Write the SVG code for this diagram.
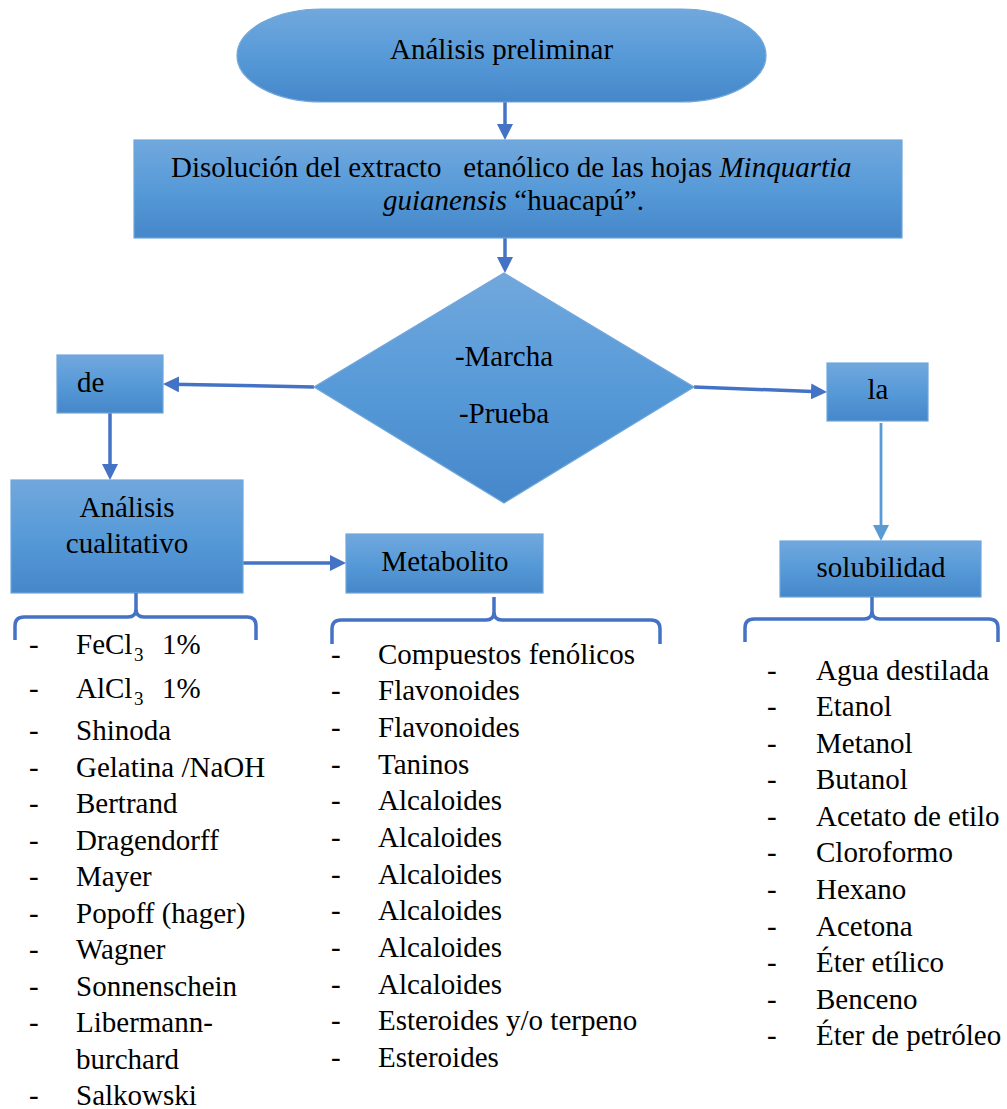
<svg xmlns="http://www.w3.org/2000/svg" width="1007" height="1109" viewBox="0 0 1007 1109">
<style>
text{font-family:"Liberation Serif","Times New Roman",serif;font-size:29px;fill:#000}
.shape{fill:url(#g);stroke:#6fa6db;stroke-width:1.2}
.conn{fill:none;stroke:#4472c4;stroke-width:3.5}
.conn2{fill:none;stroke:#5b9bd5;stroke-width:2.8}
.brace{fill:none;stroke:#4472c4;stroke-width:3.5;stroke-linejoin:round}
.sub{font-size:19px}
</style>
<defs>
<linearGradient id="g" x1="0" y1="0" x2="0" y2="1">
<stop offset="0" stop-color="#71a8dd"/>
<stop offset="0.5" stop-color="#579ad8"/>
<stop offset="1" stop-color="#4587c9"/>
</linearGradient>
<marker id="ah" markerUnits="userSpaceOnUse" markerWidth="16" markerHeight="16" refX="8" refY="8" orient="auto">
<path d="M0,0 L16,8 L0,16 Z" fill="#4472c4"/>
</marker>
<marker id="ah2" markerUnits="userSpaceOnUse" markerWidth="16" markerHeight="16" refX="8" refY="8" orient="auto">
<path d="M0,0 L16,8 L0,16 Z" fill="#5b9bd5"/>
</marker>
</defs>
<rect width="1007" height="1109" fill="#fff"/>

<g id="connectors">
<path class="conn" d="M505,102 L505,132" marker-end="url(#ah)"/>
<path class="conn" d="M505,238 L505,265" marker-end="url(#ah)"/>
<path class="conn" d="M314,387 L171,384.2" marker-end="url(#ah)"/>
<path class="conn" d="M694,387 L819,391.7" marker-end="url(#ah)"/>
<path class="conn" d="M110,413 L110,472" marker-end="url(#ah)"/>
<path class="conn" d="M238,563 L338,563" marker-end="url(#ah)"/>
<path class="conn2" d="M881,423 L881,533" marker-end="url(#ah2)"/>
</g>

<g id="n-analisis-preliminar">
<path class="shape" d="M322,9 L681,9 A85,46.5 0 0 1 681,102 L322,102 A85,46.5 0 0 1 322,9 Z"/>
<text x="390" y="59">Análisis preliminar</text>
</g>

<g id="n-disolucion">
<rect class="shape" x="134" y="140" width="768" height="98"/>
<text x="171" y="177" xml:space="preserve">Disolución del extracto   etanólico de las hojas <tspan font-style="italic">Minquartia</tspan></text>
<text x="383" y="210" xml:space="preserve"><tspan font-style="italic">guianensis</tspan> “huacapú”.</text>
</g>

<g id="n-decision">
<polygon class="shape" points="504,273 694,387 504,503 314,387"/>
<text x="504" y="366" text-anchor="middle">-Marcha</text>
<text x="504" y="423" text-anchor="middle">-Prueba</text>
</g>

<g id="n-de">
<rect class="shape" x="57" y="355" width="106" height="58"/>
<text x="77" y="392">de</text>
</g>

<g id="n-la">
<rect class="shape" x="827" y="363" width="101" height="58"/>
<text x="878" y="399" text-anchor="middle">la</text>
</g>

<g id="n-analisis-cualitativo">
<rect class="shape" x="11" y="480" width="232" height="113"/>
<text x="127" y="517" text-anchor="middle">Análisis</text>
<text x="127" y="553" text-anchor="middle">cualitativo</text>
</g>

<g id="n-metabolito">
<rect class="shape" x="346" y="534" width="197" height="59"/>
<text x="445" y="571" text-anchor="middle">Metabolito</text>
</g>

<g id="n-solubilidad">
<rect class="shape" x="780" y="541" width="201" height="56"/>
<text x="881" y="577" text-anchor="middle">solubilidad</text>
</g>

<g id="braces">
<path class="brace" d="M15,640 L15,626 Q15,617 24,617 L128,617 Q136,617 136,609 L136,593 M136,609 Q136,617 144,617 L247,617 Q256,617 256,626 L256,640"/>
<path class="brace" d="M332,644 L332,629 Q332,620 341,620 L486,620 Q494,620 494,612 L494,597 M494,612 Q494,620 502,620 L651,620 Q660,620 660,629 L660,644"/>
<path class="brace" d="M745,642 L745,628 Q745,619 754,619 L864,619 Q872,619 872,611 L872,597 M872,611 Q872,619 880,619 L989,619 Q998,619 998,628 L998,642"/>
</g>

<g id="list-cualitativo">
<text x="29" y="654">-</text><text x="76" y="654">FeCl</text><text class="sub" x="134" y="661">3</text><text x="162" y="654">1%</text>
<text x="29" y="698">-</text><text x="76" y="698">AlCl</text><text class="sub" x="134" y="705">3</text><text x="162" y="698">1%</text>
<text x="29" y="740">-</text><text x="76" y="740">Shinoda</text>
<text x="29" y="777">-</text><text x="76" y="777">Gelatina /NaOH</text>
<text x="29" y="813">-</text><text x="76" y="813">Bertrand</text>
<text x="29" y="850">-</text><text x="76" y="850">Dragendorff</text>
<text x="29" y="886">-</text><text x="76" y="886">Mayer</text>
<text x="29" y="923">-</text><text x="76" y="923">Popoff (hager)</text>
<text x="29" y="959">-</text><text x="76" y="959">Wagner</text>
<text x="29" y="996">-</text><text x="76" y="996">Sonnenschein</text>
<text x="29" y="1032">-</text><text x="76" y="1032">Libermann-</text>
<text x="76" y="1069">burchard</text>
<text x="29" y="1105">-</text><text x="76" y="1105">Salkowski</text>
</g>

<g id="list-metabolito">
<text x="331" y="664">-</text><text x="378" y="664">Compuestos fenólicos</text>
<text x="331" y="700">-</text><text x="378" y="700">Flavonoides</text>
<text x="331" y="737">-</text><text x="378" y="737">Flavonoides</text>
<text x="331" y="774">-</text><text x="378" y="774">Taninos</text>
<text x="331" y="810">-</text><text x="378" y="810">Alcaloides</text>
<text x="331" y="847">-</text><text x="378" y="847">Alcaloides</text>
<text x="331" y="884">-</text><text x="378" y="884">Alcaloides</text>
<text x="331" y="920">-</text><text x="378" y="920">Alcaloides</text>
<text x="331" y="957">-</text><text x="378" y="957">Alcaloides</text>
<text x="331" y="994">-</text><text x="378" y="994">Alcaloides</text>
<text x="331" y="1030">-</text><text x="378" y="1030">Esteroides y/o terpeno</text>
<text x="331" y="1067">-</text><text x="378" y="1067">Esteroides</text>
</g>

<g id="list-solubilidad">
<text x="767" y="680">-</text><text x="816" y="680">Agua destilada</text>
<text x="767" y="716">-</text><text x="816" y="716">Etanol</text>
<text x="767" y="753">-</text><text x="816" y="753">Metanol</text>
<text x="767" y="789">-</text><text x="816" y="789">Butanol</text>
<text x="767" y="826">-</text><text x="816" y="826">Acetato de etilo</text>
<text x="767" y="862">-</text><text x="816" y="862">Cloroformo</text>
<text x="767" y="899">-</text><text x="816" y="899">Hexano</text>
<text x="767" y="936">-</text><text x="816" y="936">Acetona</text>
<text x="767" y="972">-</text><text x="816" y="972">Éter etílico</text>
<text x="767" y="1009">-</text><text x="816" y="1009">Benceno</text>
<text x="767" y="1045">-</text><text x="816" y="1045">Éter de petróleo</text>
</g>
</svg>
